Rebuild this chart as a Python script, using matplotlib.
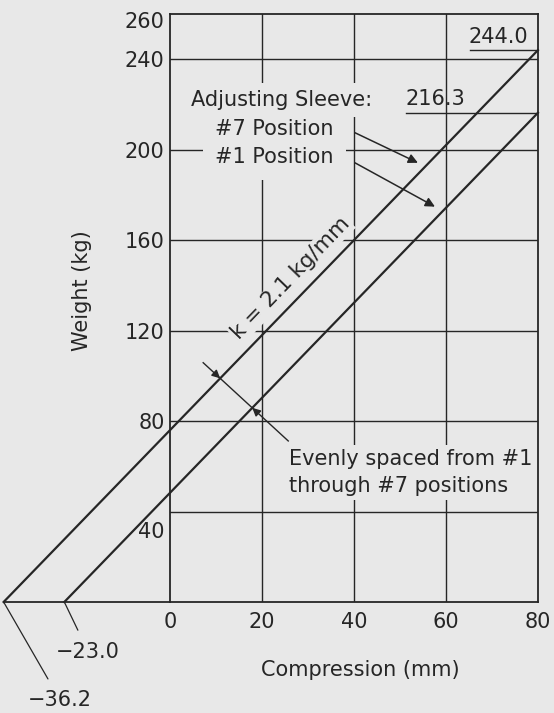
import numpy as np
import matplotlib.pyplot as plt
from matplotlib.transforms import ScaledTranslation

plt.rcParams['font.family'] = ['DejaVu Sans']

# spring rate chart: load vs compression for the two sleeve positions
k_rate = 2.1                      # kg/mm
x_ticks = [0, 20, 40, 60, 80]
y_ticks = [40, 80, 120, 160, 200, 240, 260]
x_start = [-36.2, -23.0]          # #7 and #1 sleeve positions (zero load)
x_end = 80
y_end = [244.0, 216.3]            # load at 80 mm

ink = '#262626'
paper = '#e8e8e8'

fig = plt.figure(figsize=(5.54, 7.13), dpi=100, facecolor=paper)
ax = fig.add_axes([0.307, 0.1557, 0.664, 0.8247], facecolor=paper)
ax.set_xlim(0, 80)
ax.set_ylim(0, 260)

for s in ax.spines.values():
    s.set_color(ink)
    s.set_linewidth(1.3)

# grid lines
for yv in y_ticks[:-1]:
    ax.axhline(yv, color=ink, lw=1.0, zorder=1)
for xv in x_ticks[1:-1]:
    ax.axvline(xv, color=ink, lw=1.0, zorder=1)

ax.set_xticks(x_ticks)
ax.set_yticks(y_ticks)
ax.tick_params(length=0, labelsize=15, colors=ink)
ax.tick_params(axis='x', pad=7)
ax.tick_params(axis='y', pad=4)

# nudge a couple of y labels off the lines
ylabels = ax.get_yticklabels()
ylabels[0].set_transform(ylabels[0].get_transform() + ScaledTranslation(0, -0.18, fig.dpi_scale_trans))
ylabels[-1].set_transform(ylabels[-1].get_transform() + ScaledTranslation(0, -0.06, fig.dpi_scale_trans))

ax.set_xlabel('Compression (mm)', fontsize=15, color=ink)
ax.xaxis.set_label_coords(0.516, -0.099)
ax.set_ylabel('Weight (kg)', fontsize=15, color=ink)
ax.yaxis.set_label_coords(-0.212, 0.53)

# baseline extended to the left of the frame
ax.plot([min(x_start), 0], [0, 0], color=ink, lw=1.3, clip_on=False, zorder=3)

# the two spring lines
for x0, y1 in zip(x_start, y_end):
    ax.plot([x0, x_end], [0, y1], color=ink, lw=1.6, clip_on=False, zorder=3)

box = dict(facecolor=paper, edgecolor='none', pad=1.5)

# end values with underline leaders
ax.annotate('244.0', xy=(77.8, y_end[0] + 1.5), ha='right', va='bottom',
            fontsize=15, color=ink, bbox=box, zorder=4)
ax.plot([65.2, x_end], [y_end[0], y_end[0]], color=ink, lw=1.0, zorder=3)
ax.annotate('216.3', xy=(51.2, y_end[1] + 1.5), ha='left', va='bottom',
            fontsize=15, color=ink, zorder=4)
ax.plot([51.2, x_end], [y_end[1], y_end[1]], color=ink, lw=1.0, zorder=3)

# sleeve position labels
ax.text(9.8, 202.9, '#7 Position\n#1 Position', ha='left', va='center',
        fontsize=15, color=ink, linespacing=1.5,
        bbox=dict(facecolor=paper, edgecolor='none', pad=9), zorder=4)
ax.text(4.6, 222.0, 'Adjusting Sleeve:', ha='left', va='center', fontsize=15,
        color=ink, bbox=dict(facecolor=paper, edgecolor='none', pad=5), zorder=4.5)
arrow = dict(arrowstyle='-|>', color=ink, lw=1.1, mutation_scale=14,
             shrinkA=0, shrinkB=0)
ax.annotate('', xy=(53.9, 194.2), xytext=(40.2, 207.5), arrowprops=arrow, zorder=5)
ax.annotate('', xy=(57.6, 174.8), xytext=(40.2, 194.2), arrowprops=arrow, zorder=5)

# slope label along the #7 line
ax.text(26.3, 143.0, 'k = 2.1 kg/mm', rotation=46, ha='center', va='center',
        fontsize=15.5, color=ink, rotation_mode='anchor',
        bbox=dict(facecolor=paper, edgecolor='none', pad=1), zorder=4)

# spacing indicator across both lines
p0 = np.array([7.2, 105.8])
p1 = np.array([25.7, 71.2])
ax.plot([p0[0], p1[0]], [p0[1], p1[1]], color=ink, lw=1.0, zorder=3)
m = (p1[1] - p0[1]) / (p1[0] - p0[0])
hits = []
for x0 in x_start:
    xi = (p0[1] - m * p0[0] + k_rate * x0) / (k_rate - m)
    hits.append((xi, k_rate * (xi - x0)))
d = (p1 - p0) / np.hypot(*(p1 - p0))
tip = dict(arrowstyle='-|>', color=ink, lw=1.0, mutation_scale=12,
           shrinkA=0, shrinkB=0)
ax.annotate('', xy=hits[0], xytext=(hits[0][0] - 1.8 * d[0], hits[0][1] - 1.8 * d[1]),
            arrowprops=tip, zorder=5)
ax.annotate('', xy=hits[1], xytext=(hits[1][0] + 1.8 * d[0], hits[1][1] + 1.8 * d[1]),
            arrowprops=tip, zorder=5)

ax.text(25.8, 57.3, 'Evenly spaced from #1\nthrough #7 positions', ha='left',
        va='center', fontsize=15, color=ink, linespacing=1.45,
        bbox=dict(facecolor=paper, edgecolor='none', pad=3), zorder=4)

# zero-load intercept labels
ax.annotate('\u221223.0', xy=(x_start[1], 0), xytext=(-17.8, -22.0),
            ha='center', va='center', fontsize=15, color=ink, annotation_clip=False,
            arrowprops=dict(arrowstyle='-', color=ink, lw=0.9, shrinkA=7, shrinkB=0))
ax.annotate('\u221236.2', xy=(x_start[0], 0), xytext=(-23.9, -43.4),
            ha='center', va='center', fontsize=15, color=ink, annotation_clip=False,
            arrowprops=dict(arrowstyle='-', color=ink, lw=0.9, shrinkA=7, shrinkB=0))

plt.savefig('out.png', dpi=100, facecolor=paper)
